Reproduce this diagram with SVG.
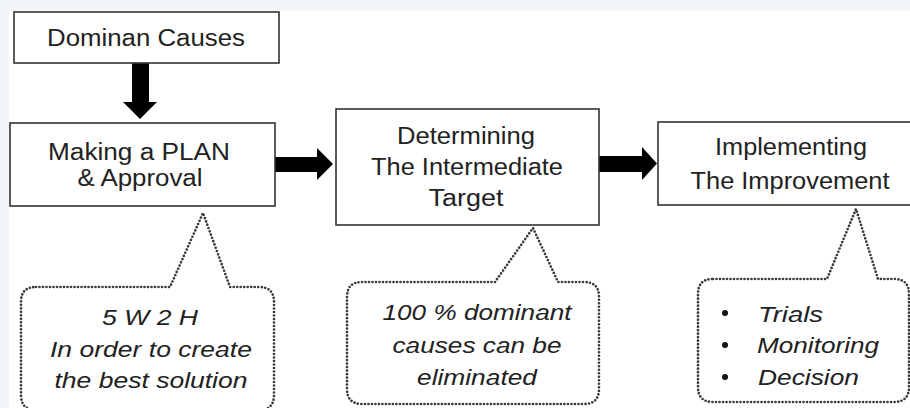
<svg xmlns="http://www.w3.org/2000/svg" width="910" height="408" viewBox="0 0 910 408">
  <style>
    .box { fill: #ffffff; stroke: #333333; stroke-width: 1.6; }
    .lbl { font-family: "Liberation Sans", Arial, sans-serif; font-size: 23px; fill: #222222; text-anchor: middle; }
    .note { font-family: "Liberation Sans", Arial, sans-serif; font-size: 22px; font-style: italic; fill: #222222; text-anchor: middle; }
    .noteL { font-family: "Liberation Sans", Arial, sans-serif; font-size: 22px; font-style: italic; fill: #222222; }
    .bubble { fill: #ffffff; stroke: #3a3a3a; stroke-width: 2.7; stroke-dasharray: 0 3.5; stroke-linecap: round; stroke-linejoin: round; }
    .arrow { fill: #000000; }
  </style>

  <!-- page -->
  <rect x="0" y="0" width="910" height="408" fill="#f2f6f9"/>
  <rect x="9" y="11" width="901" height="397" fill="#ffffff"/>

  <!-- connectors -->
  <g id="connectors">
    <polygon class="arrow" points="132,63 149,63 149,102 157,102 140,119 123,102 132,102"/>
    <polygon class="arrow" points="275,157 317,157 317,148 333,164 317,180 317,172 275,172"/>
    <polygon class="arrow" points="599,156 642,156 642,147 657,163.5 642,180 642,172 599,172"/>
  </g>

  <g id="dominan-causes">
    <rect class="box" x="14" y="12" width="265" height="51"/>
    <text class="lbl" x="146" y="46" textLength="198" lengthAdjust="spacingAndGlyphs">Dominan Causes</text>
  </g>

  <g id="making-plan">
    <rect class="box" x="10" y="123" width="265" height="83"/>
    <text class="lbl" x="139" y="160" textLength="182" lengthAdjust="spacingAndGlyphs">Making a PLAN</text>
    <text class="lbl" x="140" y="186" textLength="125" lengthAdjust="spacingAndGlyphs">&amp; Approval</text>
  </g>

  <g id="intermediate-target">
    <rect class="box" x="336" y="109" width="263" height="116"/>
    <text class="lbl" x="466" y="144" textLength="138" lengthAdjust="spacingAndGlyphs">Determining</text>
    <text class="lbl" x="467" y="175" textLength="192" lengthAdjust="spacingAndGlyphs">The Intermediate</text>
    <text class="lbl" x="466" y="206" textLength="75" lengthAdjust="spacingAndGlyphs">Target</text>
  </g>

  <g id="implementing">
    <rect class="box" x="658" y="122" width="264" height="83"/>
    <text class="lbl" x="791" y="155" textLength="152" lengthAdjust="spacingAndGlyphs">Implementing</text>
    <text class="lbl" x="790" y="189" textLength="199" lengthAdjust="spacingAndGlyphs">The Improvement</text>
  </g>

  <g id="note-plan">
    <path class="bubble" d="M36,287 L170,287 L203,213 L230,287 L259,287 Q274,287 274,302 L274,395 Q274,410 259,410 L36,410 Q21,410 21,395 L21,302 Q21,287 36,287 Z"/>
    <text class="note" x="150" y="325" textLength="96" lengthAdjust="spacingAndGlyphs">5 W 2 H</text>
    <text class="note" x="151" y="357" textLength="202" lengthAdjust="spacingAndGlyphs">In order to create</text>
    <text class="note" x="151" y="388" textLength="193" lengthAdjust="spacingAndGlyphs">the best solution</text>
  </g>

  <g id="note-target">
    <path class="bubble" d="M362,282 L495,282 L533,228 L558,282 L584,282 Q599,282 599,297 L599,389 Q599,404 584,404 L362,404 Q347,404 347,389 L347,297 Q347,282 362,282 Z"/>
    <text class="note" x="477" y="320" textLength="189" lengthAdjust="spacingAndGlyphs">100 % dominant</text>
    <text class="note" x="477" y="353" textLength="169" lengthAdjust="spacingAndGlyphs">causes can be</text>
    <text class="note" x="477" y="385" textLength="120" lengthAdjust="spacingAndGlyphs">eliminated</text>
  </g>

  <g id="note-implementing">
    <path class="bubble" d="M713,279 L827,279 L856,209 L878,279 L894,279 Q909,279 909,294 L909,387 Q909,402 894,402 L713,402 Q698,402 698,387 L698,294 Q698,279 713,279 Z"/>
    <circle cx="725" cy="313" r="3" fill="#111111"/>
    <circle cx="725" cy="345" r="3" fill="#111111"/>
    <circle cx="725" cy="377" r="3" fill="#111111"/>
    <text class="noteL" x="758" y="322" textLength="65" lengthAdjust="spacingAndGlyphs">Trials</text>
    <text class="noteL" x="757" y="353" textLength="122" lengthAdjust="spacingAndGlyphs">Monitoring</text>
    <text class="noteL" x="758" y="385" textLength="101" lengthAdjust="spacingAndGlyphs">Decision</text>
  </g>
</svg>
